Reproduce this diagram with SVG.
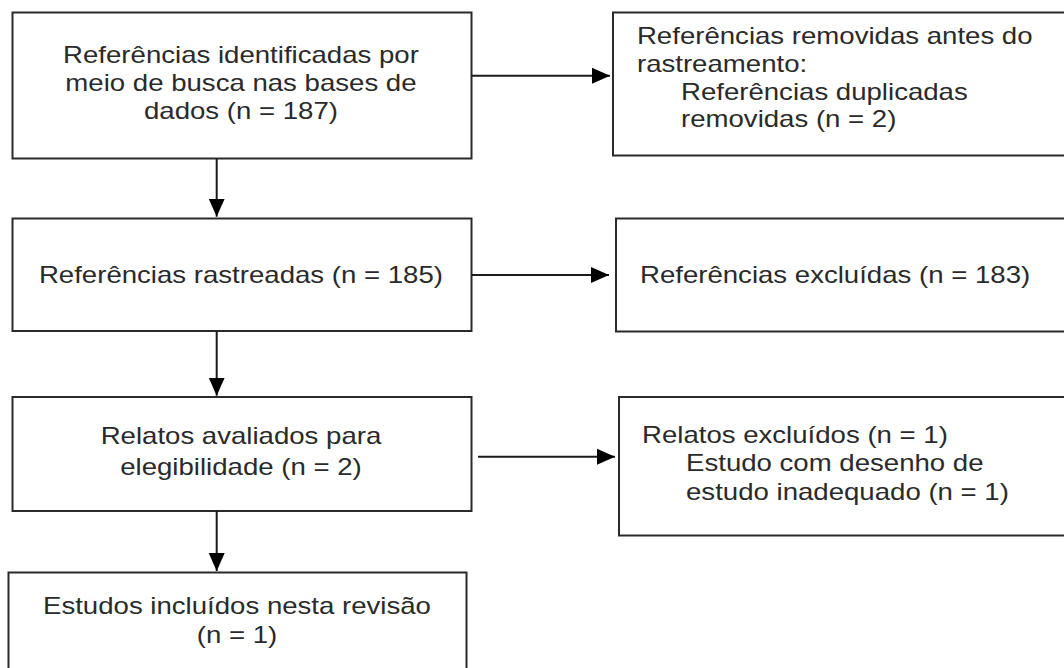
<svg xmlns="http://www.w3.org/2000/svg" width="1064" height="668" viewBox="0 0 1064 668">
  <style>
    .box { fill: #ffffff; stroke: #2a2a2a; stroke-width: 2; }
    .t { font-family: "Liberation Sans", Arial, sans-serif; font-size: 23px; fill: #2a2a2a; }
    .c { text-anchor: middle; }
    .edge { stroke: #1a1a1a; stroke-width: 2; fill: none; marker-end: url(#arrow); }
  </style>
  <defs>
    <marker id="arrow" markerUnits="userSpaceOnUse" markerWidth="18" markerHeight="18" viewBox="0 0 18 18" refX="18" refY="9" orient="auto">
      <path d="M0,1 L18,9 L0,17 Z" fill="#000000"/>
    </marker>
  </defs>
  <rect width="1064" height="668" fill="#ffffff"/>

  <g id="identified">
    <rect class="box" x="12.5" y="12.5" width="459" height="146"/>
    <g transform="scale(1.2 1)">
      <text class="t c" x="200.8" y="63">Referências identificadas por</text>
      <text class="t c" x="200.8" y="91">meio de busca nas bases de</text>
      <text class="t c" x="200.8" y="119">dados (n = 187)</text>
    </g>
  </g>

  <g id="removed">
    <rect class="box" x="613" y="12.5" width="470" height="143"/>
    <g transform="scale(1.2 1)">
      <text class="t" x="530.8" y="44">Referências removidas antes do</text>
      <text class="t" x="530.8" y="72.5">rastreamento:</text>
      <text class="t" x="567.5" y="100">Referências duplicadas</text>
      <text class="t" x="567.5" y="127.5">removidas (n = 2)</text>
    </g>
  </g>

  <g id="screened">
    <rect class="box" x="12.5" y="218.5" width="459" height="112.5"/>
    <g transform="scale(1.2 1)">
      <text class="t c" x="200.8" y="283">Referências rastreadas (n = 185)</text>
    </g>
  </g>

  <g id="excluded">
    <rect class="box" x="616" y="218.5" width="470" height="113"/>
    <g transform="scale(1.2 1)">
      <text class="t" x="533.3" y="283">Referências excluídas (n = 183)</text>
    </g>
  </g>

  <g id="assessed">
    <rect class="box" x="12.5" y="397" width="459" height="114"/>
    <g transform="scale(1.2 1)">
      <text class="t c" x="200.8" y="444">Relatos avaliados para</text>
      <text class="t c" x="200.8" y="475.5">elegibilidade (n = 2)</text>
    </g>
  </g>

  <g id="reports-excluded">
    <rect class="box" x="619" y="397" width="470" height="138.5"/>
    <g transform="scale(1.2 1)">
      <text class="t" x="535" y="443">Relatos excluídos (n = 1)</text>
      <text class="t" x="571.7" y="471.5">Estudo com desenho de</text>
      <text class="t" x="571.7" y="500">estudo inadequado (n = 1)</text>
    </g>
  </g>

  <g id="included">
    <rect class="box" x="8.5" y="572.5" width="458" height="120"/>
    <g transform="scale(1.2 1)">
      <text class="t c" x="197.5" y="614">Estudos incluídos nesta revisão</text>
      <text class="t c" x="197.5" y="643">(n = 1)</text>
    </g>
  </g>

  <g id="connectors">
    <line class="edge" x1="471.5" y1="75.7" x2="610" y2="75.7"/>
    <line class="edge" x1="471.5" y1="275" x2="609" y2="275"/>
    <line class="edge" x1="478" y1="456.7" x2="615" y2="456.7"/>
    <line class="edge" x1="216.7" y1="158.5" x2="216.7" y2="216.7"/>
    <line class="edge" x1="216.7" y1="331" x2="216.7" y2="395.7"/>
    <line class="edge" x1="216.7" y1="511" x2="216.7" y2="571"/>
  </g>
</svg>
